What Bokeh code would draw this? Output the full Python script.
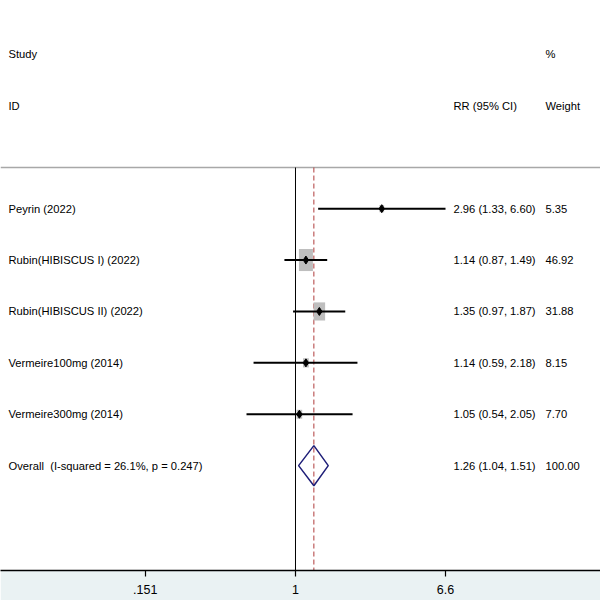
import math
from bokeh.plotting import figure
from bokeh.models import Range1d, FixedTicker, ColumnDataSource, LinearScale
from bokeh.core.properties import value
from bokeh.embed import file_html
from bokeh.resources import INLINE

# ---- data ----
studies = ["Peyrin (2022)", "Rubin(HIBISCUS I) (2022)", "Rubin(HIBISCUS II) (2022)",
           "Vermeire100mg (2014)", "Vermeire300mg (2014)"]
rr = [2.96, 1.14, 1.35, 1.14, 1.05]
lo = [1.33, 0.87, 0.97, 0.59, 0.54]
hi = [6.60, 1.49, 1.87, 2.18, 2.05]
weight = [5.35, 46.92, 31.88, 8.15, 7.70]
overall_rr, overall_lo, overall_hi, overall_w = 1.26, 1.04, 1.51, 100.00
i_squared, p_het = 26.1, 0.247
tick_values = [0.151, 1, 6.6]
tick_labels = [".151", "1", "6.6"]

FONT_NAME = "Liberation Sans"
FONT = value(FONT_NAME)
FS = "11.2px"

rows = list(range(1, len(studies) + 1))
overall_row = len(studies) + 1

p = figure(width=600, height=600, x_axis_type="log", output_backend="svg",
           toolbar_location=None, y_axis_location=None,
           x_range=Range1d(0.02446, 46.37), y_range=Range1d(8.04, -3.05),
           min_border_left=0, min_border_right=0, min_border_top=0, min_border_bottom=30)
p.extra_x_ranges = {"px": Range1d(0, 600)}
p.extra_x_scales = {"px": LinearScale()}
p.outline_line_color = None
p.border_fill_color = "#EAF2F3"
p.background_fill_color = "white"
p.xgrid.visible = False
p.ygrid.visible = False

ax = p.xaxis[0]
ax.ticker = FixedTicker(ticks=tick_values, minor_ticks=[])
ax.major_label_overrides = {v: l for v, l in zip(tick_values, tick_labels)}
ax.axis_line_width = 1.5
ax.axis_line_color = "black"
ax.major_tick_line_color = "black"
ax.major_tick_line_width = 1.2
ax.major_tick_out = 6
ax.major_tick_in = 0
ax.minor_tick_out = 0
ax.minor_tick_in = 0
ax.major_label_standoff = 8
ax.major_label_text_font = FONT_NAME
ax.major_label_text_font_size = "12.5px"
ax.major_label_text_color = "black"

top_y = 0.2
bottom_y = 8.04

# header separator
p.segment(x0=[0], x1=[600], y0=[top_y], y1=[top_y], x_range_name="px",
          line_color="#A8A8A8", line_width=1.5)
# null line
p.segment(x0=[1], x1=[1], y0=[top_y], y1=[bottom_y], line_color="black", line_width=1)
# overall effect dashed line
p.segment(x0=[overall_rr], x1=[overall_rr], y0=[top_y], y1=[bottom_y],
          line_color="#B03A3A", line_width=1, line_dash="5 3")

# weight boxes
scale = [math.sqrt(w / max(weight)) for w in weight]
src = ColumnDataSource(dict(rr=rr, lo=lo, hi=hi, y=rows,
                            bw=[14 * s for s in scale], bh=[22 * s for s in scale]))
p.rect(x="rr", y="y", width="bw", height="bh", width_units="screen", height_units="screen",
       source=src, fill_color="#BEBEBE", line_color=None)
p.segment(x0="lo", x1="hi", y0="y", y1="y", source=src, line_color="black", line_width=2)
p.scatter(x="rr", y="y", source=src, marker="diamond", size=8, color="black")

# overall diamond
dh = 0.39
p.patch(x=[overall_lo, overall_rr, overall_hi, overall_rr],
        y=[overall_row, overall_row - dh, overall_row, overall_row + dh],
        fill_color=None, line_color="#1E1E78", line_width=1.5)

# text columns
names = studies + ["Overall \u00a0(I-squared = %.1f%%, p = %.3f)" % (i_squared, p_het)]
ci_txt = ["%.2f (%.2f, %.2f)" % (a, b, c) for a, b, c in zip(rr, lo, hi)] + \
         ["%.2f (%.2f, %.2f)" % (overall_rr, overall_lo, overall_hi)]
w_txt = ["%.2f" % w for w in weight] + ["%.2f" % overall_w]
all_rows = rows + [overall_row]

tsrc = ColumnDataSource(dict(y=all_rows, name=names, ci=ci_txt, w=w_txt,
                             xn=[8] * len(all_rows), xc=[453] * len(all_rows),
                             xw=[545] * len(all_rows)))
common = dict(source=tsrc, x_range_name="px", text_font=FONT, text_font_size=FS,
              text_baseline="middle", text_align="left", text_color="black")
p.text(x="xn", y="y", text="name", **common)
p.text(x="xc", y="y", text="ci", **common)
p.text(x="xw", y="y", text="w", **common)

# headers
hsrc = ColumnDataSource(dict(x=[8, 545, 8, 453, 545], y=[-2, -2, -1, -1, -1],
                             t=["Study", "%", "ID", "RR (95% CI)", "Weight"]))
p.text(x="x", y="y", text="t", source=hsrc, x_range_name="px", text_font=FONT,
       text_font_size=FS, text_baseline="middle", text_align="left", text_color="black")

open("out.html", "w").write(file_html(p, INLINE))
